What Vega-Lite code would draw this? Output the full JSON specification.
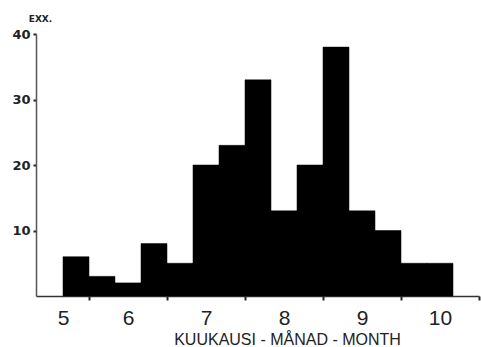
{
  "$schema": "https://vega.github.io/schema/vega-lite/v6.json",
  "autosize": "none",
  "width": 443,
  "height": 262,
  "padding": {"left": 36, "top": 34, "right": 2, "bottom": 51},
  "background": "white",
  "data": {
    "values": [
      {"start": 5.1667, "end": 5.5, "count": 6},
      {"start": 5.5, "end": 5.8333, "count": 3},
      {"start": 5.8333, "end": 6.1667, "count": 2},
      {"start": 6.1667, "end": 6.5, "count": 8},
      {"start": 6.5, "end": 6.8333, "count": 5},
      {"start": 6.8333, "end": 7.1667, "count": 20},
      {"start": 7.1667, "end": 7.5, "count": 23},
      {"start": 7.5, "end": 7.8333, "count": 33},
      {"start": 7.8333, "end": 8.1667, "count": 13},
      {"start": 8.1667, "end": 8.5, "count": 20},
      {"start": 8.5, "end": 8.8333, "count": 38},
      {"start": 8.8333, "end": 9.1667, "count": 13},
      {"start": 9.1667, "end": 9.5, "count": 10},
      {"start": 9.5, "end": 9.8333, "count": 5},
      {"start": 9.8333, "end": 10.1667, "count": 5}
    ]
  },
  "mark": {"type": "bar", "color": "#000000", "stroke": "#000000", "strokeWidth": 0.5},
  "encoding": {
    "x": {
      "field": "start",
      "type": "quantitative",
      "scale": {"domain": [4.8205, 10.5], "nice": false, "zero": false},
      "axis": {
        "values": [5.5, 6.5, 7.5, 8.5, 9.5, 10.5],
        "labelExpr": "floor(datum.value)",
        "labelOffset": {"condition": {"test": "datum.value < 6", "value": -26}, "value": -39},
        "labelFont": "Liberation Sans",
        "labelFontSize": 21,
        "labelColor": "#222222",
        "labelPadding": 7,
        "labelBaseline": "top",
        "labelFlush": false,
        "labelOverlap": false,
        "tickSize": 4,
        "tickWidth": 2,
        "tickColor": "#222222",
        "domainColor": "#333333",
        "domainWidth": 1.5,
        "grid": false,
        "title": "KUUKAUSI - MÅNAD - MONTH",
        "titleFont": "Liberation Sans",
        "titleFontSize": 16,
        "titleFontWeight": "normal",
        "titleColor": "#222222",
        "titleX": 251,
        "titleY": 48,
        "titleBaseline": "alphabetic"
      }
    },
    "x2": {"field": "end"},
    "y": {
      "field": "count",
      "type": "quantitative",
      "scale": {"domain": [0, 40], "nice": false},
      "axis": {
        "values": [10, 20, 30, 40],
        "labelFont": "DejaVu Sans",
        "labelFontWeight": "bold",
        "labelFontSize": 13,
        "labelColor": "#222222",
        "labelPadding": 3,
        "tickSize": 3,
        "tickWidth": 2,
        "tickColor": "#222222",
        "domainColor": "#555555",
        "domainWidth": 1.5,
        "grid": false,
        "title": "EXX.",
        "titleAngle": 0,
        "titleFont": "DejaVu Sans",
        "titleFontWeight": "bold",
        "titleFontSize": 9,
        "titleColor": "#222222",
        "titleAlign": "center",
        "titleBaseline": "alphabetic",
        "titleX": 4,
        "titleY": -13
      }
    },
    "y2": {"datum": 0}
  },
  "config": {"view": {"stroke": null}}
}
